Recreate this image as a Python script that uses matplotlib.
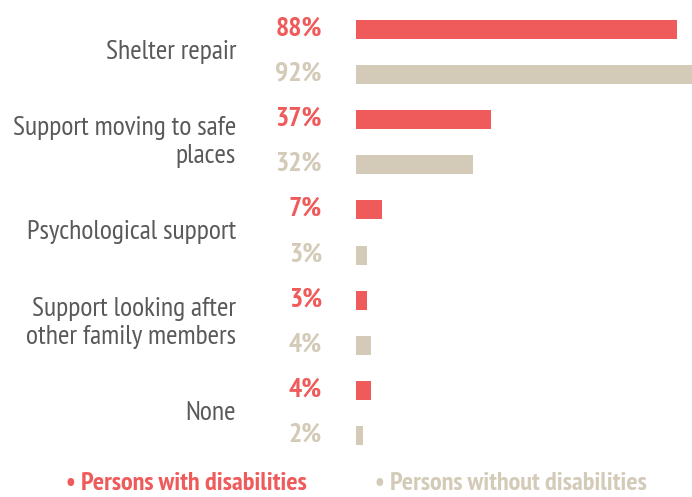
import matplotlib
matplotlib.use("Agg")
import matplotlib.pyplot as plt
from matplotlib import font_manager
from matplotlib.font_manager import FontProperties

candidates = ["Liberation Sans Narrow", "Arial Narrow", "PT Sans Narrow", "Roboto Condensed",
              "Archivo Narrow", "IBM Plex Sans Condensed", "Liberation Sans"]


def static(name, weight):
    for f in font_manager.fontManager.ttflist:
        if f.name == name and f.weight == weight and f.style == "normal" and "[" not in f.fname:
            return f.fname
    return None


REG = BOLD = None
for c in candidates:
    r, b = static(c, 400), static(c, 700)
    if r and b:
        REG, BOLD = r, b
        break

categories = ["Shelter repair", "Support moving to safe\nplaces", "Psychological support",
              "Support looking after\nother family members", "None"]
with_dis = [88, 37, 7, 3, 4]
without_dis = [92, 32, 3, 4, 2]
series_names = ["Persons with disabilities", "Persons without disabilities"]

RED = "#EF5A5A"
BEIGE = "#D3CBB8"
LABEL = "#595959"

W, H = 692, 497
fig = plt.figure(figsize=(W / 100, H / 100), dpi=100)
ax_left = 356 / W
ax_right = 692 / W
top_px, bot_px = 6.5, 458.5
ax = fig.add_axes([ax_left, 1 - bot_px / H, ax_right - ax_left, (bot_px - top_px) / H])

n = len(categories)
ypos_red = [2 * i for i in range(n)]
ypos_gray = [2 * i + 1 for i in range(n)]
ax.barh(ypos_red, with_dis, height=0.42, color=RED)
ax.barh(ypos_gray, without_dis, height=0.42, color=BEIGE)
ax.set_ylim(2 * n - 0.5, -0.5)
ax.set_xlim(0, 92)
ax.axis("off")

fp_bold = FontProperties(fname=BOLD, size=20)
fp_reg = FontProperties(fname=REG, size=20)
fp_leg = FontProperties(fname=BOLD, size=19)

for y, v in zip(ypos_red, with_dis):
    ax.annotate(f"{v}%", (0, y), xytext=(-34, 1), textcoords="offset pixels",
                ha="right", va="center", color=RED, fontproperties=fp_bold)
for y, v in zip(ypos_gray, without_dis):
    ax.annotate(f"{v}%", (0, y), xytext=(-34, 1), textcoords="offset pixels",
                ha="right", va="center", color=BEIGE, fontproperties=fp_bold)
for i, c in enumerate(categories):
    ax.annotate(c, (0, 2 * i + 0.5), xytext=(-120, 0), textcoords="offset pixels",
                ha="right", va="center", color=LABEL, fontproperties=fp_reg,
                linespacing=1.2)

fig.text(66 / W, 1 - 484 / H, "• " + series_names[0], color=RED,
         fontproperties=fp_leg, ha="left", va="center")
fig.text(375 / W, 1 - 484 / H, "• " + series_names[1], color=BEIGE,
         fontproperties=fp_leg, ha="left", va="center")

fig.savefig("out.png", dpi=100)
